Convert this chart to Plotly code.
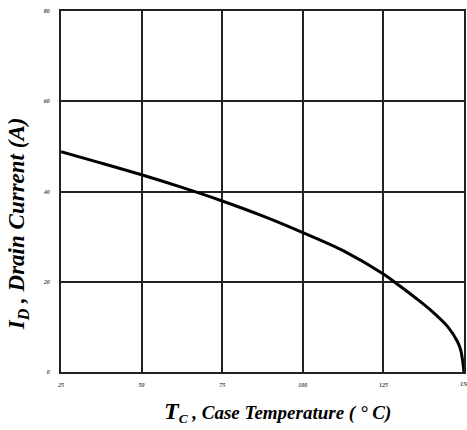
import plotly.graph_objects as go

# Data
case_temp = [25, 37.5, 50, 62.5, 75, 87.5, 100, 112.5, 125, 130, 135, 140, 145, 148, 149, 150]
drain_current = [48.8, 46.3, 43.7, 40.9, 37.9, 34.6, 30.9, 26.9, 21.7, 19.1, 16.4, 13.5, 10.0, 6.7, 4.8, 0.0]

x_ticks = [25, 50, 75, 100, 125, 150]
y_ticks = [0, 20, 40, 60, 80]

serif = "Liberation Serif"

fig = go.Figure()
fig.add_trace(go.Scatter(
    x=case_temp, y=drain_current, mode="lines",
    line=dict(color="black", width=3, shape="spline", smoothing=1.0),
    showlegend=False, hoverinfo="skip", cliponaxis=False,
))

tickfont = dict(family=serif, size=6, color="#444444", weight="bold", style="italic")

fig.update_xaxes(
    range=[25, 150], tickvals=x_ticks[:-1], ticktext=[str(v) for v in x_ticks[:-1]],
    showgrid=True, gridcolor="#222222", gridwidth=2,
    showline=True, linecolor="#222222", linewidth=2, mirror=True,
    zeroline=False, ticks="", tickfont=tickfont, ticklabelstandoff=6,
)
fig.update_yaxes(
    range=[0, 80], tickvals=y_ticks, ticktext=[str(v) for v in y_ticks],
    showgrid=True, gridcolor="#222222", gridwidth=2,
    showline=True, linecolor="#222222", linewidth=2, mirror=True,
    zeroline=False, ticks="", tickfont=tickfont, ticklabelstandoff=8,
)

# last x tick label (cut by the window edge in the reference)
fig.add_annotation(
    x=x_ticks[-1], y=0, xref="x", yref="y", showarrow=False,
    text=str(x_ticks[-1]), yshift=-12, font=tickfont,
)

fig.add_annotation(
    xref="paper", yref="paper", x=0.537, y=-0.111, xanchor="center", yanchor="middle",
    showarrow=False,
    text="<b><i><span style='font-size:24px'>T</span><sub>C</sub> , Case Temperature ( ° C)</i></b>",
    font=dict(family=serif, size=19, color="black"),
)
fig.add_annotation(
    xref="paper", yref="paper", x=-0.106, y=0.41, xanchor="center", yanchor="middle",
    showarrow=False, textangle=-90,
    text="<b><i>I<sub>D</sub> , Drain Current (A)</i></b>",
    font=dict(family=serif, size=23, color="black"),
)

fig.update_layout(
    width=467, height=430,
    margin=dict(l=61, r=1, t=11, b=58),
    paper_bgcolor="white", plot_bgcolor="white",
)

fig.write_html("out.html")
